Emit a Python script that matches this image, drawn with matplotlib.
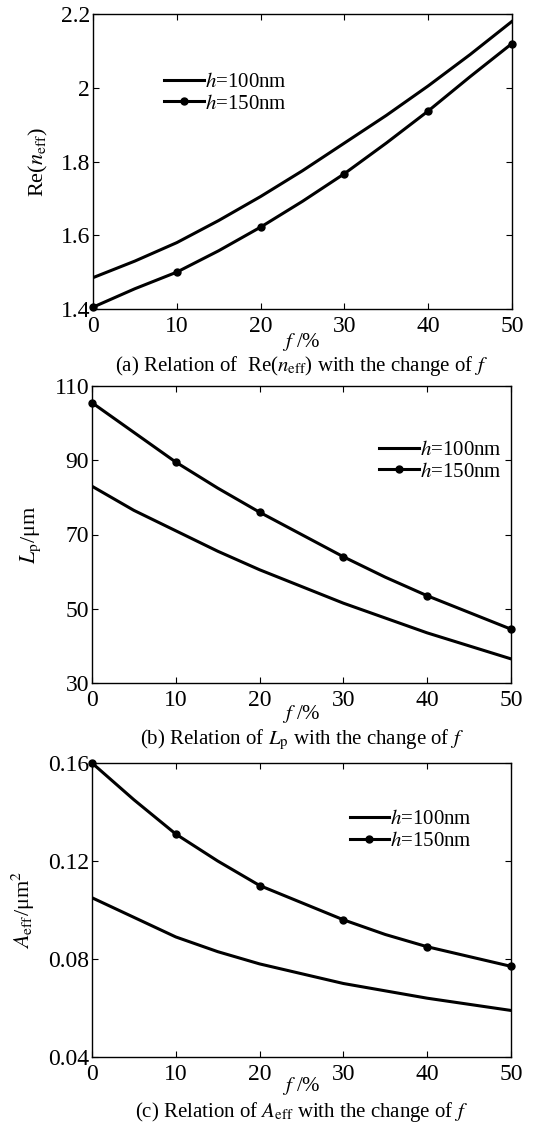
import numpy as np
import matplotlib
matplotlib.use("Agg")
import matplotlib.pyplot as plt

plt.rcParams['font.family'] = ['Liberation Serif', 'DejaVu Serif']
plt.rcParams['mathtext.fontset'] = 'stix'

# f in percent, read every 5 %
f = [0, 5, 10, 15, 20, 25, 30, 35, 40, 45, 50]

# (a) Re(n_eff)
re_100 = [1.485, 1.53, 1.58, 1.64, 1.705, 1.775, 1.85, 1.925, 2.005, 2.09, 2.18]
re_150 = [1.405, 1.455, 1.50, 1.558, 1.622, 1.692, 1.767, 1.85, 1.937, 2.03, 2.12]

# (b) L_p / um
lp_100 = [83, 76.5, 71, 65.5, 60.5, 56, 51.5, 47.5, 43.5, 40, 36.5]
lp_150 = [105.5, 97.5, 89.5, 82.5, 76, 70, 64, 58.5, 53.5, 49, 44.5]

# (c) A_eff / um^2
ae_100 = [0.105, 0.097, 0.089, 0.083, 0.078, 0.074, 0.070, 0.067, 0.064, 0.0615, 0.059]
ae_150 = [0.160, 0.145, 0.131, 0.120, 0.110, 0.103, 0.096, 0.090, 0.085, 0.081, 0.077]

labels = ['$h$=100nm', '$h$=150nm']
x_ticks = [0, 10, 20, 30, 40, 50]

W, H = 553, 1127
fig = plt.figure(figsize=(W / 100, H / 100), dpi=100)


def box(left, top, right, bottom):
    return [left / W, 1 - bottom / H, (right - left) / W, (bottom - top) / H]


panels = [
    dict(rect=box(93, 14, 512, 309), y1=re_100, y2=re_150, ylim=(1.4, 2.2),
         yticks=[1.4, 1.6, 1.8, 2.0, 2.2], ytl=['1.4', '1.6', '1.8', '2', '2.2'],
         ylabel='Re($n_{\\mathrm{eff}}$)', leg=(0.15, 0.83),
         xl_y=342, cap_y=366,
         cap='(a) Relation of  Re($n_{\\mathrm{eff}}$) with the change of $f$'),
    dict(rect=box(92, 386, 511, 683), y1=lp_100, y2=lp_150, ylim=(30, 110),
         yticks=[30, 50, 70, 90, 110], ytl=['30', '50', '70', '90', '110'],
         ylabel='$L_{\\mathrm{p}}$/μm', leg=(0.665, 0.845),
         xl_y=714, cap_y=740,
         cap='(b) Relation of $L_{\\mathrm{p}}$ with the change of $f$'),
    dict(rect=box(92, 763, 511, 1057), y1=ae_100, y2=ae_150, ylim=(0.04, 0.16),
         yticks=[0.04, 0.08, 0.12, 0.16], ytl=['0.04', '0.08', '0.12', '0.16'],
         ylabel='$A_{\\mathrm{eff}}$/μm$^2$', leg=(0.595, 0.87),
         xl_y=1086, cap_y=1112,
         cap='(c) Relation of $A_{\\mathrm{eff}}$ with the change of $f$'),
]

for p in panels:
    ax = fig.add_axes(p['rect'])
    ax.plot(f, p['y1'], color='black', lw=2.2, label=labels[0])
    ax.plot(f, p['y2'], color='black', lw=2.2, marker='o', markersize=5,
            markevery=2, clip_on=False, label=labels[1])
    ax.set_xlim(0, 50)
    ax.set_ylim(*p['ylim'])
    ax.set_xticks(x_ticks)
    ax.set_yticks(p['yticks'])
    ax.set_yticklabels(p['ytl'])
    ax.tick_params(direction='in', top=True, right=True, labelsize=17,
                   length=4, width=0.8)
    ax.tick_params(axis='x', pad=5)
    ax.tick_params(axis='y', pad=2)
    for s in ax.spines.values():
        s.set_linewidth(1.0)
    ax.set_ylabel(p['ylabel'], fontsize=16, labelpad=8)
    ax.legend(loc='upper left', bbox_to_anchor=p['leg'], frameon=False,
              fontsize=15, handlelength=1.9, handletextpad=0.05,
              borderaxespad=0, labelspacing=0.1)
    fig.text(0.5 * (92 + 511) / W, 1 - p['xl_y'] / H, '$f$ /%', ha='center',
             va='center', fontsize=15)
    fig.text(0.5 * (92 + 511) / W, 1 - p['cap_y'] / H, p['cap'], ha='center',
             va='center', fontsize=15)

fig.savefig('out.png', dpi=100)
